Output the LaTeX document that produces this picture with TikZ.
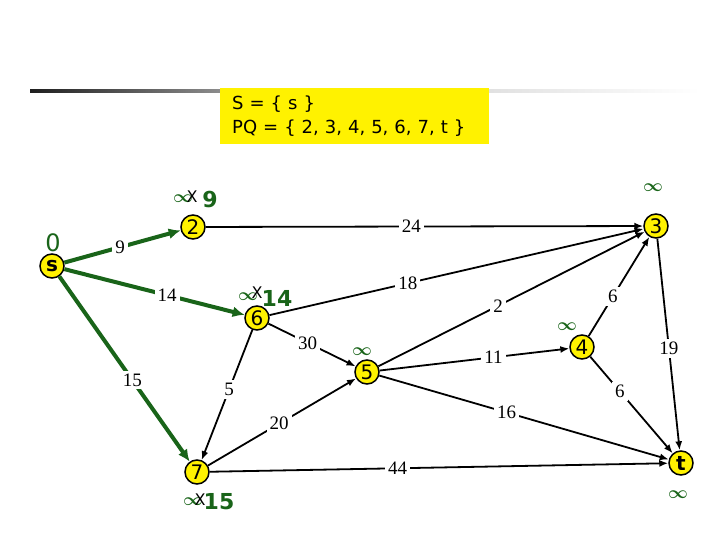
\documentclass[tikz,border=0pt]{standalone}
\usepackage{fontspec}
\setmainfont{Liberation Serif}
\newfontfamily\hdr{DejaVu Sans}
\usetikzlibrary{arrows.meta}
\definecolor{dgreen}{RGB}{25,100,25}
\begin{document}
\begin{tikzpicture}[x=1pt,y=-1pt,
  vert/.style={circle, draw, line width=1.5pt, fill=yellow, minimum size=24pt, inner sep=0pt, font=\hdr\fontsize{20}{20}\selectfont},
  edge/.style={line width=1.8pt, -{Latex[length=9pt,width=7pt]}},
  tree/.style={line width=4pt, draw=dgreen, -{Latex[length=12pt,width=11pt]}},
  wlab/.style={fill=white, inner sep=3pt, font=\fontsize{19}{19}\selectfont},
  inf/.style={text=dgreen, inner sep=0pt, font=\fontsize{16}{16}\selectfont\boldmath},
  xmark/.style={inner sep=0pt, font=\hdr\fontsize{16}{16}\selectfont},
  dist/.style={text=dgreen, inner sep=0pt, font=\hdr\bfseries\fontsize{22}{22}\selectfont},
  hbox/.style={fill=yellow, anchor=north west, minimum width=266pt, minimum height=56pt, text width=245pt, inner xsep=12pt, align=left, font=\hdr\fontsize{18}{24}\selectfont}
]
\useasboundingbox (0,0) rectangle (720,540);
% header
\shade[left color=black!88, right color=black!45] (30,89.5) rectangle (220,92.5);
\shade[left color=black!12, right color=white] (486,89.5) rectangle (700,92.5);
\node[hbox] (pq) at (220,88) {S = \{ s \}\\PQ = \{ 2, 3, 4, 5, 6, 7, t \}};
% vertices
\node[vert] (s) at (52,266) {\textbf{s}};
\node[vert] (n2) at (193,227) {2};
\node[vert] (n3) at (656,226) {3};
\node[vert] (n4) at (582,347) {4};
\node[vert] (n5) at (367,372) {5};
\node[vert] (n6) at (257,318) {6};
\node[vert] (n7) at (197,472) {7};
\node[vert] (t) at (681,463) {\textbf{t}};
% black edges
\draw[edge] (n2) -- node[wlab,pos=.47]{24} (n3);
\draw[edge] (n6) -- node[wlab,pos=.37]{18} (n3);
\draw[edge] (n6) -- node[wlab,pos=.45]{30} (n5);
\draw[edge] (n6) -- node[wlab,pos=.46]{5} (n7);
\draw[edge] (n5) -- node[wlab,pos=.45]{2} (n3);
\draw[edge] (n5) -- node[wlab,pos=.6]{11} (n4);
\draw[edge] (n5) -- node[wlab,pos=.44]{16} (t);
\draw[edge] (n7) -- node[wlab,pos=.48]{20} (n5);
\draw[edge] (n7) -- node[wlab,pos=.41]{44} (t);
\draw[edge] (n4) -- node[wlab,pos=.4]{6} (n3);
\draw[edge] (n4) -- node[wlab,pos=.36]{6} (t);
\draw[edge] (n3) -- node[wlab,pos=.52]{19} (t);
% green tree edges
\draw[tree] (s) -- node[wlab,pos=.48]{9} (n2);
\draw[tree] (s) -- node[wlab,pos=.57]{14} (n6);
\draw[tree] (s) -- node[wlab,pos=.56]{15} (n7);
% distance labels
\node[text=dgreen, inner sep=0pt, font=\hdr\fontsize{24}{24}\selectfont] (d0) at (53,243) {0};
\node[inf] (i2) at (183,199) {$\infty$};
\node[xmark] (x2) at (192,197) {X};
\node[dist] (d2) at (210,200) {9};
\node[inf] (i6) at (248,297) {$\infty$};
\node[xmark] (x6) at (257,293) {X};
\node[dist] (d6) at (277,298) {14};
\node[inf] (i7) at (193,502) {$\infty$};
\node[xmark] (x7) at (200,500) {X};
\node[dist] (d7) at (219,502) {15};
\node[inf] (i3) at (653,188) {$\infty$};
\node[inf] (i4) at (567,327) {$\infty$};
\node[inf] (i5) at (362,352) {$\infty$};
\node[inf] (it) at (678,495) {$\infty$};
\end{tikzpicture}
\end{document}
